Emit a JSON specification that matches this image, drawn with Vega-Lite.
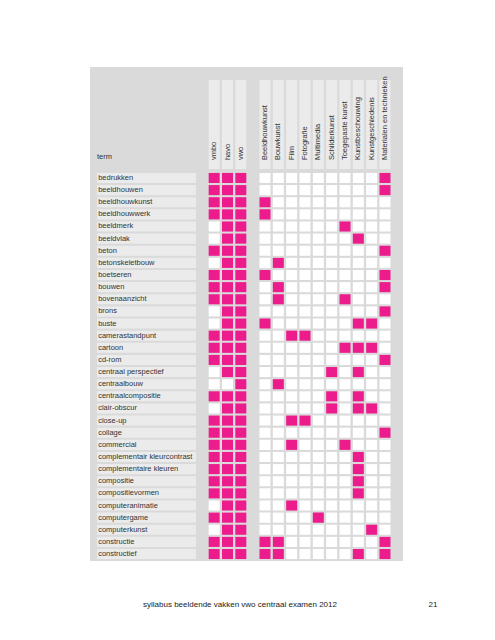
{
  "$schema": "https://vega.github.io/schema/vega-lite/v6.json",
  "padding": {"left": 90, "top": 67, "right": 0, "bottom": 0},
  "background": "white",
  "config": {
    "font": "Liberation Sans",
    "view": {"stroke": null, "fill": "#dadada"},
    "concat": {"spacing": 0}
  },
  "datasets": {
    "terms": [
      {"term": "bedrukken", "vmbo": 1, "havo": 1, "vwo": 1, "Materialen en technieken": 1},
      {"term": "beeldhouwen", "vmbo": 1, "havo": 1, "vwo": 1, "Materialen en technieken": 1},
      {"term": "beeldhouwkunst", "vmbo": 1, "havo": 1, "vwo": 1, "Beeldhouwkunst": 1},
      {"term": "beeldhouwwerk", "vmbo": 1, "havo": 1, "vwo": 1, "Beeldhouwkunst": 1},
      {"term": "beeldmerk", "havo": 1, "vwo": 1, "Toegepaste kunst": 1},
      {"term": "beeldvlak", "havo": 1, "vwo": 1, "Kunstbeschouwing": 1},
      {"term": "beton", "vmbo": 1, "havo": 1, "vwo": 1, "Materialen en technieken": 1},
      {"term": "betonskeletbouw", "havo": 1, "vwo": 1, "Bouwkunst": 1},
      {"term": "boetseren", "vmbo": 1, "havo": 1, "vwo": 1, "Beeldhouwkunst": 1, "Materialen en technieken": 1},
      {"term": "bouwen", "vmbo": 1, "havo": 1, "vwo": 1, "Bouwkunst": 1, "Materialen en technieken": 1},
      {"term": "bovenaanzicht", "vmbo": 1, "havo": 1, "vwo": 1, "Bouwkunst": 1, "Toegepaste kunst": 1},
      {"term": "brons", "havo": 1, "vwo": 1, "Materialen en technieken": 1},
      {"term": "buste", "havo": 1, "vwo": 1, "Beeldhouwkunst": 1, "Kunstbeschouwing": 1, "Kunstgeschiedenis": 1},
      {"term": "camerastandpunt", "vmbo": 1, "havo": 1, "vwo": 1, "Film": 1, "Fotografie": 1},
      {"term": "cartoon", "vmbo": 1, "havo": 1, "vwo": 1, "Toegepaste kunst": 1, "Kunstbeschouwing": 1, "Kunstgeschiedenis": 1},
      {"term": "cd-rom", "vmbo": 1, "havo": 1, "vwo": 1, "Materialen en technieken": 1},
      {"term": "centraal perspectief", "havo": 1, "vwo": 1, "Schilderkunst": 1, "Kunstbeschouwing": 1},
      {"term": "centraalbouw", "vwo": 1, "Bouwkunst": 1},
      {"term": "centraalcompositie", "vmbo": 1, "havo": 1, "vwo": 1, "Schilderkunst": 1, "Kunstbeschouwing": 1},
      {"term": "clair-obscur", "havo": 1, "vwo": 1, "Schilderkunst": 1, "Kunstbeschouwing": 1, "Kunstgeschiedenis": 1},
      {"term": "close-up", "vmbo": 1, "havo": 1, "vwo": 1, "Film": 1, "Fotografie": 1},
      {"term": "collage", "vmbo": 1, "havo": 1, "vwo": 1, "Materialen en technieken": 1},
      {"term": "commercial", "vmbo": 1, "havo": 1, "vwo": 1, "Film": 1, "Toegepaste kunst": 1},
      {"term": "complementair kleurcontrast", "vmbo": 1, "havo": 1, "vwo": 1, "Kunstbeschouwing": 1},
      {"term": "complementaire kleuren", "vmbo": 1, "havo": 1, "vwo": 1, "Kunstbeschouwing": 1},
      {"term": "compositie", "vmbo": 1, "havo": 1, "vwo": 1, "Kunstbeschouwing": 1},
      {"term": "compositievormen", "vmbo": 1, "havo": 1, "vwo": 1, "Kunstbeschouwing": 1},
      {"term": "computeranimatie", "havo": 1, "vwo": 1, "Film": 1},
      {"term": "computergame", "vmbo": 1, "havo": 1, "vwo": 1, "Multimedia": 1},
      {"term": "computerkunst", "havo": 1, "vwo": 1, "Kunstgeschiedenis": 1},
      {"term": "constructie", "vmbo": 1, "havo": 1, "vwo": 1, "Beeldhouwkunst": 1, "Bouwkunst": 1, "Materialen en technieken": 1},
      {"term": "constructief", "vmbo": 1, "havo": 1, "vwo": 1, "Beeldhouwkunst": 1, "Bouwkunst": 1, "Kunstbeschouwing": 1, "Materialen en technieken": 1}
    ],
    "levels": [{"col": "vmbo"}, {"col": "havo"}, {"col": "vwo"}],
    "subjects": [
      {"col": "Beeldhouwkunst"}, {"col": "Bouwkunst"}, {"col": "Film"}, {"col": "Fotografie"},
      {"col": "Multimedia"}, {"col": "Schilderkunst"}, {"col": "Toegepaste kunst"},
      {"col": "Kunstbeschouwing"}, {"col": "Kunstgeschiedenis"}, {"col": "Materialen en technieken"}
    ]
  },
  "spacing": 0,
  "vconcat": [
    {
      "spacing": 0,
      "hconcat": [
        {
          "width": 112,
          "height": 104,
          "data": {"values": [{"label": "term"}]},
          "mark": {"type": "text", "align": "left", "baseline": "middle", "fontSize": 7.5, "color": "#333333"},
          "encoding": {
            "x": {"datum": "bar", "type": "nominal", "bandPosition": 0.0, "scale": {"type": "band", "paddingInner": 0, "paddingOuter": 0.0657, "align": 0.538}, "axis": null},
            "y": {"datum": "s", "type": "nominal", "bandPosition": 0.865, "scale": {"type": "band", "paddingInner": 0, "paddingOuter": 0.08427, "align": 0.8667}, "axis": null},
            "text": {"field": "label"}
          }
        },
        {
          "width": 51,
          "height": 104,
          "data": {"name": "levels"},
          "layer": [
            {
              "mark": {"type": "rect", "color": "#ebebeb"},
              "encoding": {
                "x": {"field": "col", "type": "nominal", "sort": null, "scale": {"domain": ["vmbo", "havo", "vwo"], "paddingInner": 0.175, "paddingOuter": 0.5}, "axis": null},
                "y": {"datum": "s", "type": "nominal", "scale": {"type": "band", "paddingInner": 0, "paddingOuter": 0.08427, "align": 0.8667}, "axis": null}
              }
            },
            {
              "mark": {"type": "text", "angle": 270, "align": "left", "baseline": "middle", "fontSize": 7.5, "color": "#333333"},
              "encoding": {
                "x": {"field": "col", "type": "nominal", "sort": null},
                "y": {"datum": "s", "type": "nominal", "bandPosition": 0.9},
                "text": {"field": "col"}
              }
            }
          ]
        },
        {
          "width": 150,
          "height": 104,
          "data": {"name": "subjects"},
          "layer": [
            {
              "mark": {"type": "rect", "color": "#ebebeb"},
              "encoding": {
                "x": {"field": "col", "type": "nominal", "sort": null, "scale": {"domain": ["Beeldhouwkunst", "Bouwkunst", "Film", "Fotografie", "Multimedia", "Schilderkunst", "Toegepaste kunst", "Kunstbeschouwing", "Kunstgeschiedenis", "Materialen en technieken"], "paddingInner": 0.175, "paddingOuter": 0.7125, "align": 0.342}, "axis": null},
                "y": {"datum": "s", "type": "nominal", "scale": {"type": "band", "paddingInner": 0, "paddingOuter": 0.08427, "align": 0.8667}, "axis": null}
              }
            },
            {
              "mark": {"type": "text", "angle": 270, "align": "left", "baseline": "middle", "fontSize": 7.5, "color": "#333333"},
              "encoding": {
                "x": {"field": "col", "type": "nominal", "sort": null},
                "y": {"datum": "s", "type": "nominal", "bandPosition": 0.9},
                "text": {"field": "col"}
              }
            }
          ]
        }
      ]
    },
    {
      "spacing": 0,
      "hconcat": [
        {
          "width": 112,
          "height": 390,
          "data": {"name": "terms"},
          "layer": [
            {
              "mark": {"type": "rect", "color": "#ebebeb"},
              "encoding": {
                "x": {"datum": "bar", "type": "nominal", "scale": {"type": "band", "paddingInner": 0, "paddingOuter": 0.0657, "align": 0.538}, "axis": null},
                "y": {"field": "term", "type": "nominal", "sort": null, "scale": {"paddingInner": 0.17, "paddingOuter": 0.16}, "axis": null}
              }
            },
            {
              "mark": {"type": "text", "align": "left", "baseline": "middle", "fontSize": 7.5, "color": "#333333"},
              "encoding": {
                "x": {"datum": "bar", "type": "nominal", "bandPosition": 0.012},
                "y": {"field": "term", "type": "nominal", "sort": null},
                "text": {"field": "term"}
              }
            }
          ]
        },
        {
          "width": 51,
          "height": 390,
          "data": {"name": "terms"},
          "transform": [{"fold": ["vmbo", "havo", "vwo"], "as": ["col", "value"]}],
          "mark": {"type": "rect"},
          "encoding": {
            "x": {"field": "col", "type": "nominal", "sort": null, "scale": {"domain": ["vmbo", "havo", "vwo"], "paddingInner": 0.175, "paddingOuter": 0.5}, "axis": null},
            "y": {"field": "term", "type": "nominal", "sort": null, "scale": {"paddingInner": 0.17, "paddingOuter": 0.16}, "axis": null},
            "color": {"condition": {"test": "datum.value === 1", "value": "#ec1c8c"}, "value": "#ffffff"}
          }
        },
        {
          "width": 150,
          "height": 390,
          "data": {"name": "terms"},
          "transform": [{"fold": ["Beeldhouwkunst", "Bouwkunst", "Film", "Fotografie", "Multimedia", "Schilderkunst", "Toegepaste kunst", "Kunstbeschouwing", "Kunstgeschiedenis", "Materialen en technieken"], "as": ["col", "value"]}],
          "mark": {"type": "rect"},
          "encoding": {
            "x": {"field": "col", "type": "nominal", "sort": null, "scale": {"domain": ["Beeldhouwkunst", "Bouwkunst", "Film", "Fotografie", "Multimedia", "Schilderkunst", "Toegepaste kunst", "Kunstbeschouwing", "Kunstgeschiedenis", "Materialen en technieken"], "paddingInner": 0.175, "paddingOuter": 0.7125, "align": 0.342}, "axis": null},
            "y": {"field": "term", "type": "nominal", "sort": null, "scale": {"paddingInner": 0.17, "paddingOuter": 0.16}, "axis": null},
            "color": {"condition": {"test": "datum.value === 1", "value": "#ec1c8c"}, "value": "#ffffff"}
          }
        }
      ]
    },
    {
      "width": 353,
      "height": 68,
      "view": {"fill": "white", "stroke": null},
      "data": {"values": [
        {"label": "syllabus beeldende vakken vwo centraal examen 2012", "slot": "title"},
        {"label": "21", "slot": "page"}
      ]},
      "mark": {"type": "text", "align": "center", "baseline": "middle", "fontSize": 8, "color": "#222222"},
      "encoding": {
        "x": {"field": "slot", "type": "nominal", "scale": {"type": "point", "domain": ["title", "page"], "padding": 0.4145, "align": 0.9375}, "axis": null},
        "y": {"datum": "f", "type": "nominal", "scale": {"type": "point", "padding": 0.3, "align": 0.647}, "axis": null},
        "text": {"field": "label"}
      }
    }
  ]
}
